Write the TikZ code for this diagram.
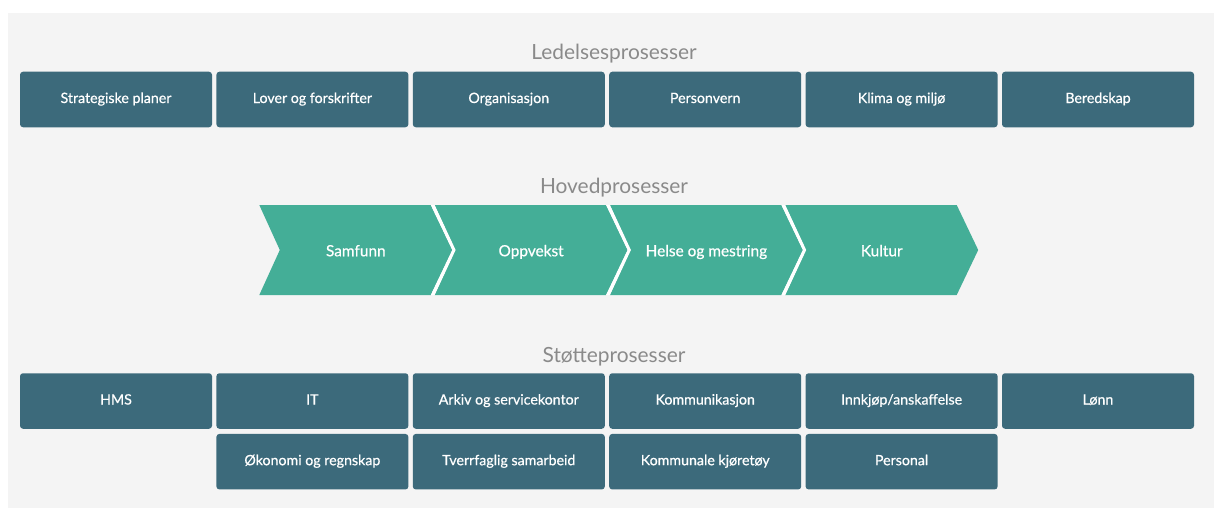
\documentclass[tikz,border=0pt]{standalone}
\usepackage{fontspec}
\setmainfont{Lato}
\newfontfamily\medfont[FakeBold=0.6]{Lato}
\definecolor{bg}{HTML}{F4F4F4}
\definecolor{boxc}{HTML}{3C6A7B}
\definecolor{chev}{HTML}{44AE97}
\definecolor{head}{HTML}{8A8A8A}
\begin{document}
\begin{tikzpicture}[x=1pt,y=-1pt,
  box/.style={fill=boxc,rounded corners=3pt,minimum width=192pt,minimum height=55.5pt,inner sep=0pt,text=white,font=\medfont\fontsize{14.2}{16}\selectfont,text height=10pt,text depth=3pt},
  header/.style={text=head,font=\fontsize{20.9}{24}\selectfont,inner sep=0pt,text height=15pt,text depth=4.5pt},
  chevtext/.style={text=white,font=\medfont\fontsize{15.4}{18}\selectfont,inner sep=0pt,text height=11pt,text depth=3.5pt},
  chevshape/.style={fill=chev},
  chevgap/.style={fill=white}]
\useasboundingbox (0,0) rectangle (1214,508);
\fill[white] (0,0) rectangle (1214,508);
\fill[bg] (8,13) rectangle (1214,508);
% headers
\node[header] (h1) at (614,54) {Ledelsesprosesser};
\node[header] (h2) at (614,188) {Hovedprosesser};
\node[header] (h3) at (614,357) {Støtteprosesser};
% management row
\node[box] (l1) at (116,99.5) {Strategiske planer};
\node[box] (l2) at (312.4,99.5) {Lover og forskrifter};
\node[box] (l3) at (508.8,99.5) {Organisasjon};
\node[box] (l4) at (705.2,99.5) {Personvern};
\node[box] (l5) at (901.6,99.5) {Klima og miljø};
\node[box] (l6) at (1098,99.5) {Beredskap};
% chevrons
\foreach \L/\nm/\t in {259.3/c1/Samfunn,434.6/c2/Oppvekst,609.9/c3/Helse og mestring,785.2/c4/Kultur}{
  \fill[chevshape] (\L,205) -- (\L+171.5,205) -- (\L+193,250) -- (\L+171.5,295) -- (\L,295) -- (\L+20.5,250) -- cycle;
  \node[chevtext] (\nm) at (\L+96.5,252.5) {\t};
}
\foreach \L in {259.3,434.6,609.9}{
  \fill[chevgap] (\L+171.5,205) -- (\L+193,250) -- (\L+171.5,295) -- (\L+175.3,295) -- (\L+196.3,250) -- (\L+175.3,205) -- cycle;
}
% support rows
\node[box] (s1) at (116,401) {HMS};
\node[box] (s2) at (312.4,401) {IT};
\node[box] (s3) at (508.8,401) {Arkiv og servicekontor};
\node[box] (s4) at (705.2,401) {Kommunikasjon};
\node[box] (s5) at (901.6,401) {Innkjøp/anskaffelse};
\node[box] (s6) at (1098,401) {Lønn};
\node[box] (s7) at (312.4,461.7) {Økonomi og regnskap};
\node[box] (s8) at (508.8,461.7) {Tverrfaglig samarbeid};
\node[box] (s9) at (705.2,461.7) {Kommunale kjøretøy};
\node[box] (s10) at (901.6,461.7) {Personal};
\end{tikzpicture}
\end{document}
